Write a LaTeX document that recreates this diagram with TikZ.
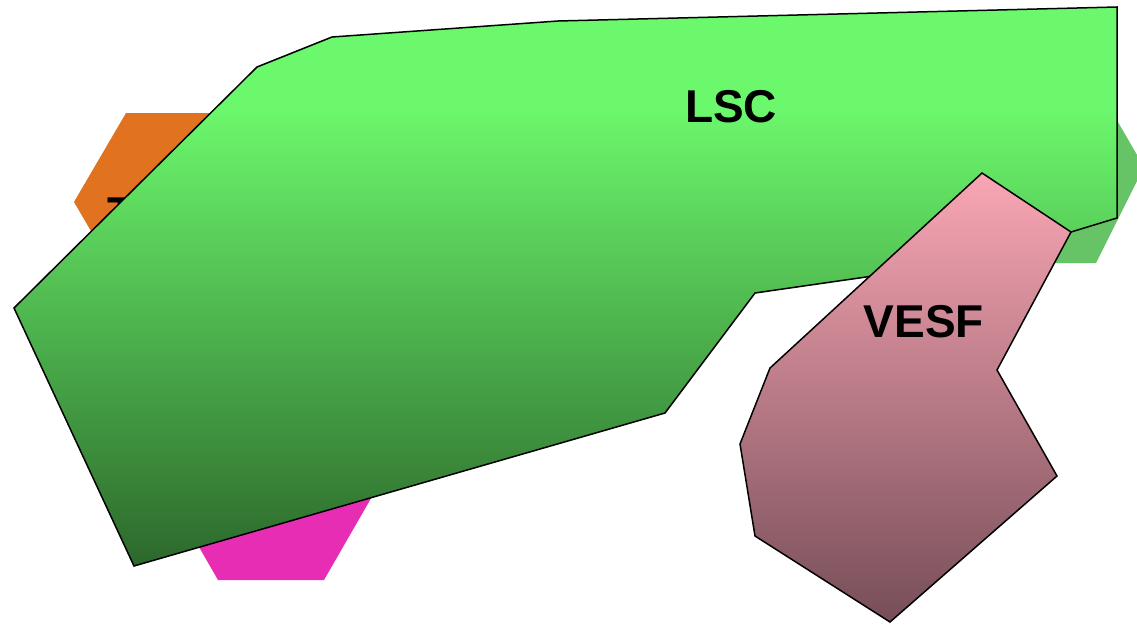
\documentclass[tikz,border=0pt]{standalone}
\usepackage{fontspec}
\setmainfont{Liberation Sans}
\definecolor{orangeF}{RGB}{224,114,32}
\definecolor{magF}{RGB}{230,45,180}
\definecolor{sideG}{RGB}{102,196,102}
\definecolor{lscTop}{RGB}{108,248,108}
\definecolor{lscBot}{RGB}{44,104,44}
\definecolor{vesTop}{RGB}{250,166,180}
\definecolor{vesBot}{RGB}{118,78,88}
\pgfdeclareverticalshading{lscshade}{100bp}{color(0bp)=(lscBot); color(25bp)=(lscBot); color(66bp)=(lscTop); color(100bp)=(lscTop)}
\tikzset{
  region/.style={draw=black, line width=1.5pt, line join=miter},
  lbl/.style={font=\fontsize{46}{50}\selectfont\bfseries, inner sep=0pt, text=black}
}
\begin{document}
\begin{tikzpicture}[x=1pt,y=-1pt]
\useasboundingbox (0,0) rectangle (1137,624);
\begin{scope}
\clip (0,0) rectangle (1137,624);
% background hexagons
\fill[orangeF] (126,113) -- (229,113) -- (280,202) -- (229,291) -- (126,291) -- (74,202) -- cycle;
\node[lbl, anchor=base west] (tl) at (107,229) {T};
\fill[magF] (218,580) -- (324,580) -- (377,488) -- (324,396) -- (218,396) -- (165,488) -- cycle;
\fill[sideG] (1000,91) -- (1100,91) -- (1144,167) -- (1096,263) -- (1010,263) -- (960,177) -- cycle;
% LSC
\path[region, shading=lscshade]
  (14,308) -- (257,67) -- (332,37) -- (558,21) -- (1117,7) -- (1117,218)
  -- (1071,232) -- (880,275) -- (755,293) -- (665,413) -- (134,566) -- cycle;
\node[lbl] (lsc) at (731,107) {LSC};
% VESF
\path[region, top color=vesTop, bottom color=vesBot]
  (982,173) -- (1071,232) -- (997,370) -- (1057,476) -- (890,622)
  -- (755,536) -- (740,444) -- (770,368) -- cycle;
\node[lbl] (vesf) at (924,322) {VESF};
\end{scope}
\end{tikzpicture}
\end{document}
